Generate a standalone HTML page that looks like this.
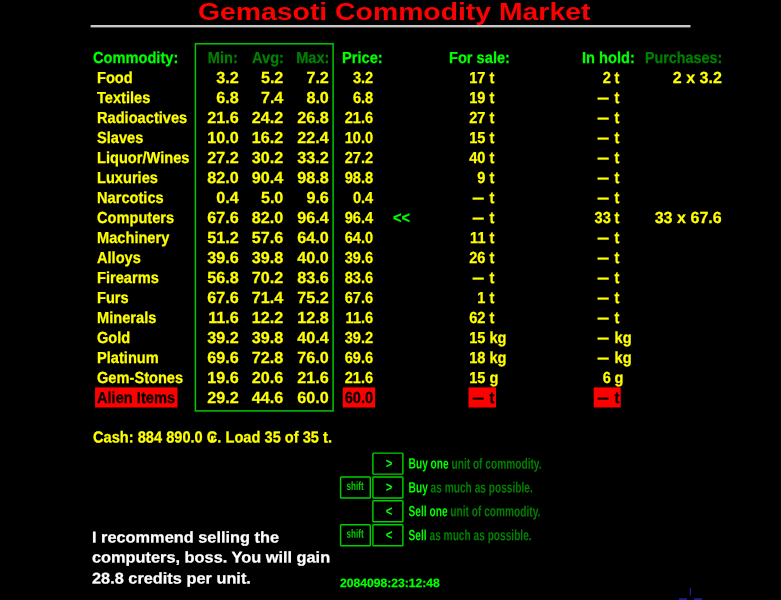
<!DOCTYPE html>
<html><head><meta charset="utf-8"><title>Gemasoti Commodity Market</title>
<style>
html,body{margin:0;padding:0;background:#000;}
body{width:781px;height:600px;position:relative;overflow:hidden;font-family:"Liberation Sans",sans-serif;font-weight:bold;}
.t{position:absolute;-webkit-text-stroke:0.25px currentColor;font-size:16px;line-height:16px;white-space:nowrap;transform-origin:0 50%;--sx:0.914;--sy:1;--dx:0px;--dy:0px;transform:translate(var(--dx),var(--dy)) scale(var(--sx),var(--sy)) rotate(0.03deg);}
.t.r{transform-origin:100% 50%;}
.y{color:#ffff00;}
.g{color:#00ff00;}
.dg{color:#008000;}
.k{color:#000;}
.w{color:#ffffff;}
#title{position:absolute;left:198px;top:-1.1px;font-size:23px;line-height:26px;color:#ff0000;white-space:nowrap;transform-origin:0 50%;transform:scaleX(1.233);}
#box{position:absolute;left:0;top:0;}
.kg{position:absolute;width:30px;text-align:center;font-size:14.5px;line-height:16px;color:#00ff00;transform:translate(calc(var(--dx) + 1.2px),calc(var(--dy) - 0.4px)) scaleX(0.78) rotate(0.03deg);}
.ks{position:absolute;width:29.7px;text-align:center;font-size:12px;line-height:16px;color:#00d000;transform:translate(calc(var(--dx) - 0.4px),calc(var(--dy) - 1.4px)) scaleX(0.68) rotate(0.03deg);}
.h{position:absolute;font-size:15px;line-height:16px;white-space:nowrap;transform-origin:0 50%;transform:translate(var(--dx),var(--dy)) scaleX(0.677) rotate(0.03deg);color:#008000;}
.h b{color:#00ff00;}
</style></head><body>
<div id="title">Gemasoti Commodity Market</div>
<svg id="box" width="781" height="600"><rect x="90.6" y="25" width="599.9" height="2.4" fill="#c8c8c8" stroke="none"/><g fill="#1c1c8c" stroke="none"><rect x="689.7" y="587.8" width="1.4" height="7.8"/><rect x="679" y="598.2" width="8" height="2"/><rect x="694.1" y="598.2" width="8" height="2"/></g><g fill="#ff0000" stroke="none"><rect x="95.1" y="387.4" width="82.4" height="20.1"/><rect x="342.8" y="387.4" width="32.3" height="20.1"/><rect x="468.5" y="387.4" width="27.5" height="20.1"/><rect x="593.7" y="387.4" width="27" height="20.1"/></g><rect x="195.4" y="43.8" width="137.7" height="367.1" fill="none" stroke="#00c800" stroke-width="1.5"/></svg>
<span class="t g" style="left:93px;top:50px;">Commodity:</span>
<span class="t r dg" style="right:543px;top:50px;">Min:</span>
<span class="t r dg" style="right:497px;top:50px;">Avg:</span>
<span class="t r dg" style="right:452px;top:50px;">Max:</span>
<span class="t g" style="left:342px;top:50px;">Price:</span>
<span class="t g" style="left:449px;top:50px;">For sale:</span>
<span class="t g" style="left:582px;top:50px;">In hold:</span>
<span class="t dg" style="left:645px;top:50px;--sx:0.895;">Purchases:</span>
<span class="t y" style="left:97px;top:70px;">Food</span>
<span class="t r y" style="right:543px;top:70px;--dx:0.5px;--sx:1.008;">3.2</span>
<span class="t r y" style="right:498px;top:70px;--dx:0.1px;--sx:1.008;">5.2</span>
<span class="t r y" style="right:452px;top:70px;--dx:-0.4px;--sx:1.008;">7.2</span>
<span class="t r y" style="right:408px;top:70px;">3.2</span>
<span class="t r y" style="right:295px;top:70px;--dx:-0.4px;">17</span>
<span class="t y" style="left:489px;top:70px;--dx:0.4px;">t</span>
<span class="t r y" style="right:170px;top:70px;">2</span>
<span class="t y" style="left:614px;top:70px;--dx:0.5px;">t</span>
<span class="t r y" style="right:59px;top:70px;--dx:-0.3px;--sx:1.0;word-spacing:0.1px;">2 x 3.2</span>
<span class="t y" style="left:97px;top:90px;">Textiles</span>
<span class="t r y" style="right:543px;top:90px;--dx:0.5px;--sx:1.008;">6.8</span>
<span class="t r y" style="right:498px;top:90px;--dx:0.1px;--sx:1.008;">7.4</span>
<span class="t r y" style="right:452px;top:90px;--dx:-0.4px;--sx:1.008;">8.0</span>
<span class="t r y" style="right:408px;top:90px;">6.8</span>
<span class="t r y" style="right:295px;top:90px;--dx:-0.4px;">19</span>
<span class="t y" style="left:489px;top:90px;--dx:0.4px;">t</span>
<span class="t r y" style="right:172px;top:90px;--dx:-0.4px;--sx:0.68;--sy:1.2;--dy:-0.3px;">—</span>
<span class="t y" style="left:614px;top:90px;--dx:0.5px;">t</span>
<span class="t y" style="left:97px;top:110px;">Radioactives</span>
<span class="t r y" style="right:543px;top:110px;--dx:0.5px;--sx:1.008;">21.6</span>
<span class="t r y" style="right:498px;top:110px;--dx:0.1px;--sx:1.008;">24.2</span>
<span class="t r y" style="right:452px;top:110px;--dx:-0.4px;--sx:1.008;">26.8</span>
<span class="t r y" style="right:408px;top:110px;">21.6</span>
<span class="t r y" style="right:295px;top:110px;--dx:-0.4px;">27</span>
<span class="t y" style="left:489px;top:110px;--dx:0.4px;">t</span>
<span class="t r y" style="right:172px;top:110px;--dx:-0.4px;--sx:0.68;--sy:1.2;--dy:-0.3px;">—</span>
<span class="t y" style="left:614px;top:110px;--dx:0.5px;">t</span>
<span class="t y" style="left:97px;top:130px;">Slaves</span>
<span class="t r y" style="right:543px;top:130px;--dx:0.5px;--sx:1.008;">10.0</span>
<span class="t r y" style="right:498px;top:130px;--dx:0.1px;--sx:1.008;">16.2</span>
<span class="t r y" style="right:452px;top:130px;--dx:-0.4px;--sx:1.008;">22.4</span>
<span class="t r y" style="right:408px;top:130px;">10.0</span>
<span class="t r y" style="right:295px;top:130px;--dx:-0.4px;">15</span>
<span class="t y" style="left:489px;top:130px;--dx:0.4px;">t</span>
<span class="t r y" style="right:172px;top:130px;--dx:-0.4px;--sx:0.68;--sy:1.2;--dy:-0.3px;">—</span>
<span class="t y" style="left:614px;top:130px;--dx:0.5px;">t</span>
<span class="t y" style="left:97px;top:150px;">Liquor/Wines</span>
<span class="t r y" style="right:543px;top:150px;--dx:0.5px;--sx:1.008;">27.2</span>
<span class="t r y" style="right:498px;top:150px;--dx:0.1px;--sx:1.008;">30.2</span>
<span class="t r y" style="right:452px;top:150px;--dx:-0.4px;--sx:1.008;">33.2</span>
<span class="t r y" style="right:408px;top:150px;">27.2</span>
<span class="t r y" style="right:295px;top:150px;--dx:-0.4px;">40</span>
<span class="t y" style="left:489px;top:150px;--dx:0.4px;">t</span>
<span class="t r y" style="right:172px;top:150px;--dx:-0.4px;--sx:0.68;--sy:1.2;--dy:-0.3px;">—</span>
<span class="t y" style="left:614px;top:150px;--dx:0.5px;">t</span>
<span class="t y" style="left:97px;top:170px;">Luxuries</span>
<span class="t r y" style="right:543px;top:170px;--dx:0.5px;--sx:1.008;">82.0</span>
<span class="t r y" style="right:498px;top:170px;--dx:0.1px;--sx:1.008;">90.4</span>
<span class="t r y" style="right:452px;top:170px;--dx:-0.4px;--sx:1.008;">98.8</span>
<span class="t r y" style="right:408px;top:170px;">98.8</span>
<span class="t r y" style="right:295px;top:170px;--dx:-0.4px;">9</span>
<span class="t y" style="left:489px;top:170px;--dx:0.4px;">t</span>
<span class="t r y" style="right:172px;top:170px;--dx:-0.4px;--sx:0.68;--sy:1.2;--dy:-0.3px;">—</span>
<span class="t y" style="left:614px;top:170px;--dx:0.5px;">t</span>
<span class="t y" style="left:97px;top:190px;">Narcotics</span>
<span class="t r y" style="right:543px;top:190px;--dx:0.5px;--sx:1.008;">0.4</span>
<span class="t r y" style="right:498px;top:190px;--dx:0.1px;--sx:1.008;">5.0</span>
<span class="t r y" style="right:452px;top:190px;--dx:-0.4px;--sx:1.008;">9.6</span>
<span class="t r y" style="right:408px;top:190px;">0.4</span>
<span class="t r y" style="right:297px;top:190px;--dx:-0.4px;--sx:0.68;--sy:1.2;--dy:-0.3px;">—</span>
<span class="t y" style="left:489px;top:190px;--dx:0.4px;">t</span>
<span class="t r y" style="right:172px;top:190px;--dx:-0.4px;--sx:0.68;--sy:1.2;--dy:-0.3px;">—</span>
<span class="t y" style="left:614px;top:190px;--dx:0.5px;">t</span>
<span class="t y" style="left:97px;top:210px;">Computers</span>
<span class="t r y" style="right:543px;top:210px;--dx:0.5px;--sx:1.008;">67.6</span>
<span class="t r y" style="right:498px;top:210px;--dx:0.1px;--sx:1.008;">82.0</span>
<span class="t r y" style="right:452px;top:210px;--dx:-0.4px;--sx:1.008;">96.4</span>
<span class="t r y" style="right:408px;top:210px;">96.4</span>
<span class="t r y" style="right:297px;top:210px;--dx:-0.4px;--sx:0.68;--sy:1.2;--dy:-0.3px;">—</span>
<span class="t y" style="left:489px;top:210px;--dx:0.4px;">t</span>
<span class="t r y" style="right:170px;top:210px;">33</span>
<span class="t y" style="left:614px;top:210px;--dx:0.5px;">t</span>
<span class="t r y" style="right:59px;top:210px;--dx:-0.3px;--sx:1.0;word-spacing:0.1px;">33 x 67.6</span>
<span class="t g" style="left:393px;top:210px;">&lt;&lt;</span>
<span class="t y" style="left:97px;top:230px;">Machinery</span>
<span class="t r y" style="right:543px;top:230px;--dx:0.5px;--sx:1.008;">51.2</span>
<span class="t r y" style="right:498px;top:230px;--dx:0.1px;--sx:1.008;">57.6</span>
<span class="t r y" style="right:452px;top:230px;--dx:-0.4px;--sx:1.008;">64.0</span>
<span class="t r y" style="right:408px;top:230px;">64.0</span>
<span class="t r y" style="right:295px;top:230px;--dx:-0.4px;">11</span>
<span class="t y" style="left:489px;top:230px;--dx:0.4px;">t</span>
<span class="t r y" style="right:172px;top:230px;--dx:-0.4px;--sx:0.68;--sy:1.2;--dy:-0.3px;">—</span>
<span class="t y" style="left:614px;top:230px;--dx:0.5px;">t</span>
<span class="t y" style="left:97px;top:250px;">Alloys</span>
<span class="t r y" style="right:543px;top:250px;--dx:0.5px;--sx:1.008;">39.6</span>
<span class="t r y" style="right:498px;top:250px;--dx:0.1px;--sx:1.008;">39.8</span>
<span class="t r y" style="right:452px;top:250px;--dx:-0.4px;--sx:1.008;">40.0</span>
<span class="t r y" style="right:408px;top:250px;">39.6</span>
<span class="t r y" style="right:295px;top:250px;--dx:-0.4px;">26</span>
<span class="t y" style="left:489px;top:250px;--dx:0.4px;">t</span>
<span class="t r y" style="right:172px;top:250px;--dx:-0.4px;--sx:0.68;--sy:1.2;--dy:-0.3px;">—</span>
<span class="t y" style="left:614px;top:250px;--dx:0.5px;">t</span>
<span class="t y" style="left:97px;top:270px;">Firearms</span>
<span class="t r y" style="right:543px;top:270px;--dx:0.5px;--sx:1.008;">56.8</span>
<span class="t r y" style="right:498px;top:270px;--dx:0.1px;--sx:1.008;">70.2</span>
<span class="t r y" style="right:452px;top:270px;--dx:-0.4px;--sx:1.008;">83.6</span>
<span class="t r y" style="right:408px;top:270px;">83.6</span>
<span class="t r y" style="right:297px;top:270px;--dx:-0.4px;--sx:0.68;--sy:1.2;--dy:-0.3px;">—</span>
<span class="t y" style="left:489px;top:270px;--dx:0.4px;">t</span>
<span class="t r y" style="right:172px;top:270px;--dx:-0.4px;--sx:0.68;--sy:1.2;--dy:-0.3px;">—</span>
<span class="t y" style="left:614px;top:270px;--dx:0.5px;">t</span>
<span class="t y" style="left:97px;top:290px;">Furs</span>
<span class="t r y" style="right:543px;top:290px;--dx:0.5px;--sx:1.008;">67.6</span>
<span class="t r y" style="right:498px;top:290px;--dx:0.1px;--sx:1.008;">71.4</span>
<span class="t r y" style="right:452px;top:290px;--dx:-0.4px;--sx:1.008;">75.2</span>
<span class="t r y" style="right:408px;top:290px;">67.6</span>
<span class="t r y" style="right:295px;top:290px;--dx:-0.4px;">1</span>
<span class="t y" style="left:489px;top:290px;--dx:0.4px;">t</span>
<span class="t r y" style="right:172px;top:290px;--dx:-0.4px;--sx:0.68;--sy:1.2;--dy:-0.3px;">—</span>
<span class="t y" style="left:614px;top:290px;--dx:0.5px;">t</span>
<span class="t y" style="left:97px;top:310px;">Minerals</span>
<span class="t r y" style="right:543px;top:310px;--dx:0.5px;--sx:1.008;">11.6</span>
<span class="t r y" style="right:498px;top:310px;--dx:0.1px;--sx:1.008;">12.2</span>
<span class="t r y" style="right:452px;top:310px;--dx:-0.4px;--sx:1.008;">12.8</span>
<span class="t r y" style="right:408px;top:310px;">11.6</span>
<span class="t r y" style="right:295px;top:310px;--dx:-0.4px;">62</span>
<span class="t y" style="left:489px;top:310px;--dx:0.4px;">t</span>
<span class="t r y" style="right:172px;top:310px;--dx:-0.4px;--sx:0.68;--sy:1.2;--dy:-0.3px;">—</span>
<span class="t y" style="left:614px;top:310px;--dx:0.5px;">t</span>
<span class="t y" style="left:97px;top:330px;">Gold</span>
<span class="t r y" style="right:543px;top:330px;--dx:0.5px;--sx:1.008;">39.2</span>
<span class="t r y" style="right:498px;top:330px;--dx:0.1px;--sx:1.008;">39.8</span>
<span class="t r y" style="right:452px;top:330px;--dx:-0.4px;--sx:1.008;">40.4</span>
<span class="t r y" style="right:408px;top:330px;">39.2</span>
<span class="t r y" style="right:295px;top:330px;--dx:-0.4px;">15</span>
<span class="t y" style="left:489px;top:330px;--dx:0.4px;">kg</span>
<span class="t r y" style="right:172px;top:330px;--dx:-0.4px;--sx:0.68;--sy:1.2;--dy:-0.3px;">—</span>
<span class="t y" style="left:614px;top:330px;--dx:0.5px;">kg</span>
<span class="t y" style="left:97px;top:350px;">Platinum</span>
<span class="t r y" style="right:543px;top:350px;--dx:0.5px;--sx:1.008;">69.6</span>
<span class="t r y" style="right:498px;top:350px;--dx:0.1px;--sx:1.008;">72.8</span>
<span class="t r y" style="right:452px;top:350px;--dx:-0.4px;--sx:1.008;">76.0</span>
<span class="t r y" style="right:408px;top:350px;">69.6</span>
<span class="t r y" style="right:295px;top:350px;--dx:-0.4px;">18</span>
<span class="t y" style="left:489px;top:350px;--dx:0.4px;">kg</span>
<span class="t r y" style="right:172px;top:350px;--dx:-0.4px;--sx:0.68;--sy:1.2;--dy:-0.3px;">—</span>
<span class="t y" style="left:614px;top:350px;--dx:0.5px;">kg</span>
<span class="t y" style="left:97px;top:370px;">Gem-Stones</span>
<span class="t r y" style="right:543px;top:370px;--dx:0.5px;--sx:1.008;">19.6</span>
<span class="t r y" style="right:498px;top:370px;--dx:0.1px;--sx:1.008;">20.6</span>
<span class="t r y" style="right:452px;top:370px;--dx:-0.4px;--sx:1.008;">21.6</span>
<span class="t r y" style="right:408px;top:370px;">21.6</span>
<span class="t r y" style="right:295px;top:370px;--dx:-0.4px;">15</span>
<span class="t y" style="left:489px;top:370px;--dx:0.4px;">g</span>
<span class="t r y" style="right:170px;top:370px;">6</span>
<span class="t y" style="left:614px;top:370px;--dx:0.5px;">g</span>
<span class="t k" style="left:97px;top:390px;">Alien Items</span>
<span class="t r y" style="right:543px;top:390px;--dx:0.5px;--sx:1.008;">29.2</span>
<span class="t r y" style="right:498px;top:390px;--dx:0.1px;--sx:1.008;">44.6</span>
<span class="t r y" style="right:452px;top:390px;--dx:-0.4px;--sx:1.008;">60.0</span>
<span class="t r k" style="right:408px;top:390px;">60.0</span>
<span class="t r k" style="right:297px;top:390px;--dx:-0.4px;--sx:0.68;--sy:1.2;--dy:-0.3px;">—</span>
<span class="t k" style="left:489px;top:390px;--dx:0.4px;">t</span>
<span class="t r k" style="right:172px;top:390px;--dx:-0.4px;--sx:0.68;--sy:1.2;--dy:-0.3px;">—</span>
<span class="t k" style="left:614px;top:390px;--dx:0.5px;">t</span>
<span class="t y" style="left:93px;top:429px;--dy:0.4px">Cash: 884 890.0 ₢. Load 35 of 35 t.</span>
<svg style="position:absolute;left:0;top:0" width="781" height="600" fill="none" stroke="#00d000" stroke-width="1.45"><rect x="372.9" y="453.1" width="30" height="21" rx="0.8"/><rect x="372.9" y="477.0" width="30" height="21" rx="0.8"/><rect x="340.6" y="477.0" width="29.7" height="21" rx="0.8"/><rect x="372.9" y="500.8" width="30" height="21" rx="0.8"/><rect x="372.9" y="524.7" width="30" height="21" rx="0.8"/><rect x="340.6" y="524.7" width="29.7" height="21" rx="0.8"/></svg>
<span class="kg" style="left:373px;top:456px;--dx:-0.10px;--dy:-0.40px">&gt;</span>
<span class="h" style="left:409px;top:456px;--dx:-0.40px;--dy:-0.40px"><b>Buy one</b> unit of commodity.</span>
<span class="kg" style="left:373px;top:480px;--dx:-0.10px;--dy:-0.50px">&gt;</span>
<span class="ks" style="left:341px;top:480px;--dx:-0.40px;--dy:-0.50px">shift</span>
<span class="h" style="left:409px;top:480px;--dx:-0.40px;--dy:-0.50px"><b>Buy</b> as much as possible.</span>
<span class="kg" style="left:373px;top:503px;--dx:-0.10px;--dy:0.30px">&lt;</span>
<span class="h" style="left:409px;top:503px;--dx:-0.40px;--dy:0.30px"><b>Sell one</b> unit of commodity.</span>
<span class="kg" style="left:373px;top:527px;--dx:-0.10px;--dy:0.20px">&lt;</span>
<span class="ks" style="left:341px;top:527px;--dx:-0.40px;--dy:0.20px">shift</span>
<span class="h" style="left:409px;top:527px;--dx:-0.40px;--dy:0.20px"><b>Sell</b> as much as possible.</span>
<div class="t w" id="msg" style="left:92px;top:527px;--dy:0.5px;font-size:15.5px;line-height:20.3px;--sx:1.054">I recommend selling the<br>computers, boss. You will gain<br>28.8 credits per unit.</div>
<span class="t g" style="left:340px;top:576px;font-size:12px;line-height:14px;--sx:1.01">2084098:23:12:48</span>
</body></html>
